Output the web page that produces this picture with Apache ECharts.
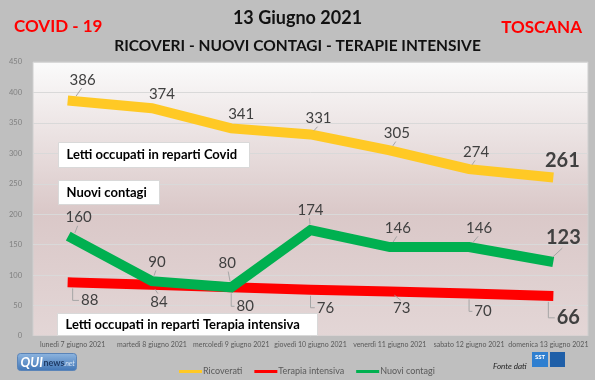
<!DOCTYPE html>
<html><head><meta charset="utf-8">
<script src="https://cdn.jsdelivr.net/npm/echarts@6/dist/echarts.min.js"></script>
<style>html,body{margin:0;padding:0;background:#bfbfbf}#c{width:595px;height:380px}</style>
</head><body><div id="c"></div>
<script>
// ---- data ----
const categories = ['lunedì 7 giugno 2021','martedì 8 giugno 2021','mercoledì 9 giugno 2021','giovedì 10 giugno 2021','venerdì 11 giugno 2021','sabato 12 giugno 2021','domenica 13 giugno 2021'];
const ricoverati = [386, 374, 341, 331, 305, 274, 261];
const terapiaIntensiva = [88, 84, 80, 76, 73, 70, 66];
const nuoviContagi = [160, 90, 80, 174, 146, 146, 123];
const yTickLabels = ['0','50','100','150','200','250','300','350','400','450'];
const seriesNames = ['Ricoverati', 'Terapia intensiva', 'Nuovi contagi'];

// ---- label placement (style, pixels relative to point) ----
const offRic = [[10,-21],[10,-14],[10,-14],[8,-16],[7,-17],[7,-17],[14,-17]];
const leadRic = ['d','','','d','d','d',''];
const offTer = [[17,18],[7,17],[14,19],[15,18],[12,17],[14,18],[20,22]];
const leadTer = ['e','d','e','e','d','e','e'];
const offNuo = [[6,-21],[5,-19],[-4,-24],[0,-20],[8,-19],[10,-19],[15,-24]];
const leadNuo = ['d','d','d','d','d','d','d'];

const FONT = 'Lato, "Open Sans", sans-serif';

function labelSeries(id, values, offsets, leaders) {
  return {
    type: 'custom', name: id, coordinateSystem: 'cartesian2d', z: 6, silent: true,
    encode: { x: 0, y: 1 },
    data: values.map((v, i) => [i, v]),
    renderItem: function (params, api) {
      const i = params.dataIndex;
      const p = api.coord([api.value(0), api.value(1)]);
      const dx = offsets[i][0], dy = offsets[i][1];
      const lx = p[0] + dx, ly = p[1] + dy;
      const big = i === values.length - 1;
      const fs = big ? 20 : 15;
      const txt = String(api.value(1));
      const w = txt.length * fs * 0.58;
      const children = [];
      const kind = leaders[i];
      const lineStyle = { stroke: '#a6a6a6', lineWidth: 1, fill: null };
      if (kind === 'd') {
        const ex = lx - Math.sign(dx || 1) * 1;
        const ey = dy < 0 ? ly + fs * 0.55 : ly - fs * 0.55;
        const vx = ex - p[0], vy = ey - p[1];
        const len = Math.sqrt(vx * vx + vy * vy) || 1;
        const s = Math.min(6, len * 0.5);
        children.push({ type: 'polyline', shape: { points: [[p[0] + vx / len * s, p[1] + vy / len * s], [ex, ey]] }, style: lineStyle });
      } else if (kind === 'e') {
        const ex = lx - w / 2 - 2;
        children.push({ type: 'polyline', shape: { points: [[p[0], p[1] + 6], [p[0], ly], [ex, ly]] }, style: lineStyle });
      }
      children.push({
        type: 'text',
        style: { text: txt, x: lx, y: ly, align: 'center', verticalAlign: 'middle',
          font: (big ? 'bold ' : '') + fs + 'px ' + FONT, fill: '#404040' }
      });
      return { type: 'group', children: children };
    }
  };
}

function lineSeries(name, values, color) {
  return {
    type: 'line', name: name, data: values, showSymbol: false, symbol: 'none',
    lineStyle: { color: color, width: 10, cap: 'square', join: 'miter' },
    itemStyle: { color: color }, z: 3, silent: true, animation: false
  };
}

function box(x, y, w, h, text, fs) {
  return {
    type: 'group', left: x, top: y, z: 100, children: [
      { type: 'rect', z: 100, shape: { x: 0, y: 0, width: w, height: h }, style: { fill: '#ffffff', stroke: '#d9d9d9', lineWidth: 1 } },
      { type: 'text', z: 101, style: { text: text, x: 8, y: h / 2, verticalAlign: 'middle', font: 'bold ' + fs + 'px ' + FONT, fill: '#000000' } }
    ]
  };
}

const chart = echarts.init(document.getElementById('c'), null, { renderer: 'canvas' });
chart.setOption({
  backgroundColor: '#bfbfbf',
  animation: false,
  textStyle: { fontFamily: FONT },
  grid: {
    left: 33, right: 7, top: 62, bottom: 44, show: true, borderWidth: 1, borderColor: '#cfcfcf',
    backgroundColor: new echarts.graphic.LinearGradient(0, 0, 0, 1, [
      { offset: 0, color: '#fbfbfb' }, { offset: 0.55, color: '#dac8c8' }, { offset: 1, color: '#e3d6d6' }
    ])
  },
  xAxis: {
    type: 'category', data: categories, boundaryGap: true,
    axisLine: { lineStyle: { color: '#bfbfbf' } },
    axisTick: { show: true, length: 4, lineStyle: { color: '#bfbfbf' } },
    axisLabel: { fontSize: 7, color: '#595959', margin: 5, fontFamily: FONT, interval: 0 }
  },
  yAxis: {
    type: 'value', min: 0, max: 450, interval: 50,
    axisLine: { show: false }, axisTick: { show: false },
    axisLabel: { fontSize: 7.5, color: '#7f7f7f', margin: 11, fontFamily: FONT,
      formatter: function (v) { return yTickLabels[Math.round(v / 50)]; } },
    splitLine: { lineStyle: { color: '#d9d9d9', width: 1 } }
  },
  legend: {
    data: seriesNames, left: 174, top: 362, icon: 'rect', itemWidth: 23, itemHeight: 3, itemGap: 12,
    textStyle: { fontSize: 9, color: '#595959', fontFamily: FONT, padding: [0, 0, 0, -4] },
    selectedMode: false
  },
  series: [
    lineSeries(seriesNames[0], ricoverati, '#ffc925'),
    lineSeries(seriesNames[1], terapiaIntensiva, '#ff0000'),
    lineSeries(seriesNames[2], nuoviContagi, '#00b050'),
    labelSeries('lbl-ric', ricoverati, offRic, leadRic),
    labelSeries('lbl-ter', terapiaIntensiva, offTer, leadTer),
    labelSeries('lbl-nuo', nuoviContagi, offNuo, leadNuo)
  ],
  graphic: [
    { type: 'text', left: 14, top: 18, z: 100, style: { text: 'COVID - 19', font: 'bold 17px ' + FONT, fill: '#ff0000' } },
    { type: 'text', left: 'center', top: 9, z: 100, style: { text: '13 Giugno 2021', font: 'bold 18px ' + FONT, fill: '#111111' } },
    { type: 'text', left: 'center', top: 38, z: 100, style: { text: 'RICOVERI - NUOVI CONTAGI - TERAPIE INTENSIVE', font: 'bold 15.5px ' + FONT, fill: '#111111' } },
    { type: 'text', right: 13, top: 19, z: 100, style: { text: 'TOSCANA', font: 'bold 17px ' + FONT, fill: '#ff0000' } },
    box(58, 142, 191, 25, 'Letti occupati in reparti Covid', 13),
    box(58, 180, 101, 24, 'Nuovi contagi', 13),
    box(57, 313, 260, 22, 'Letti occupati in reparti Terapia intensiva', 13),
    // QUInews logo
    { type: 'group', left: 17, top: 353, z: 100, children: [
      { type: 'rect', shape: { x: 0, y: 0, width: 59, height: 17, r: 3 },
        style: { fill: new echarts.graphic.LinearGradient(0, 0, 0, 1, [{ offset: 0, color: '#8fb6e0' }, { offset: 1, color: '#3f74b5' }]), stroke: '#5a84b8' } },
      { type: 'text', style: { text: 'QUI', x: 3, y: 9, verticalAlign: 'middle', font: 'italic bold 13px ' + FONT, fill: '#ffffff' } },
      { type: 'text', style: { text: 'news', x: 26, y: 10, verticalAlign: 'middle', font: 'bold 9px ' + FONT, fill: '#1f3b66' } },
      { type: 'text', style: { text: '.net', x: 46, y: 10, verticalAlign: 'middle', font: 'italic 7px ' + FONT, fill: '#dce8f5' } }
    ] },
    { type: 'text', left: 493, top: 362, z: 100, style: { text: 'Fonte dati', font: 'italic 8px ' + FONT, fill: '#222222' } },
    // SST logo
    { type: 'group', left: 532, top: 352, z: 100, children: [
      { type: 'rect', shape: { x: 0, y: 0, width: 16, height: 15 }, style: { fill: '#2f7fd0' } },
      { type: 'text', style: { text: 'SST', x: 8, y: 5, align: 'center', verticalAlign: 'middle', font: 'bold 6px ' + FONT, fill: '#ffffff' } },
      { type: 'rect', shape: { x: 18, y: 0, width: 15, height: 15 }, style: { fill: '#1f5fa8' } }
    ] }
  ]
});
</script>
</body></html>
